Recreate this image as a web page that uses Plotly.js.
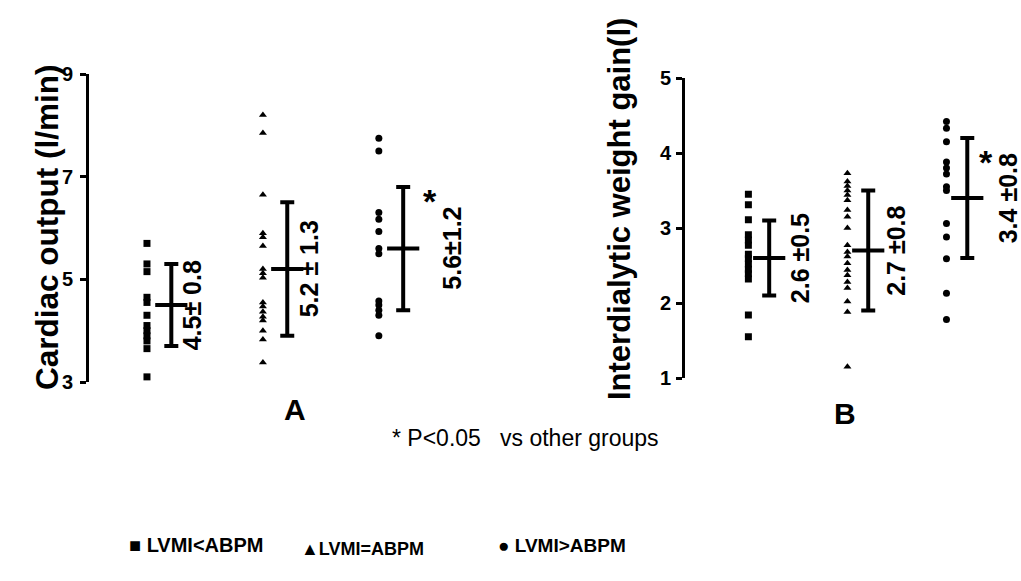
<!DOCTYPE html>
<html>
<head>
<meta charset="utf-8">
<script src="https://cdn.plot.ly/plotly-3.0.1.min.js"></script>
<style>
  html, body { margin: 0; padding: 0; background: #fff; }
  #chart { width: 1021px; height: 581px; }
</style>
</head>
<body>
<div id="chart"></div>
<script>
// Group names (legend order)
const groupNames = ['LVMI&lt;ABPM', 'LVMI=ABPM', 'LVMI&gt;ABPM'];
const groupSymbols = ['square', 'triangle-up', 'circle'];
const legendGlyphs = ['\u25A0', '\u25B2', '\u25CF'];

// Panel A: cardiac output (l/min), individual patients per group
const coLow   = [5.7, 5.3, 5.15, 4.65, 4.55, 4.3, 4.1, 4.0, 3.9, 3.8, 3.65, 3.1];
const coEqual = [8.2, 7.85, 6.65, 5.9, 5.82, 5.65, 5.2, 5.12, 5.03, 4.55, 4.47, 4.37, 4.27, 4.2, 4.0, 3.83, 3.38];
const coHigh  = [7.75, 7.5, 6.3, 6.17, 5.93, 5.6, 5.5, 4.58, 4.5, 4.4, 4.3, 3.9];
const coMean  = [4.5, 5.2, 5.6];
const coSD    = [0.8, 1.3, 1.2];
const coSep   = ['\u00B1 ', ' \u00B1 ', '\u00B1'];
const coTicks = [3, 5, 7, 9];

// Panel B: interdialytic weight gain (l)
const iwgLow   = [3.45, 3.31, 3.11, 2.91, 2.84, 2.77, 2.65, 2.59, 2.52, 2.45, 2.39, 2.32, 1.84, 1.55];
const iwgEqual = [3.73, 3.62, 3.56, 3.5, 3.44, 3.37, 3.24, 3.15, 3.0, 2.77, 2.68, 2.62, 2.53, 2.44, 2.37, 2.28, 2.2, 2.02, 1.88, 1.15];
const iwgHigh  = [4.42, 4.33, 4.15, 3.88, 3.8, 3.72, 3.55, 3.5, 3.06, 2.88, 2.59, 2.13, 1.78];
const iwgMean  = [2.6, 2.7, 3.4];
const iwgSD    = [0.5, 0.8, 0.8];
const iwgSep   = [' \u00B1', ' \u00B1', ' \u00B1'];
const iwgTicks = [1, 2, 3, 4, 5];

// Significant group (index) marked with an asterisk
const sigGroup = 2;

const W = 1021, H = 581;
const px = x => x / W;
const py = y => 1 - y / H;

const FONT = 'Liberation Sans, Arial, sans-serif';
const INK = '#000000';
const barOffset = 0.21;

function panelTraces(series, means, sds, xa, ya, markerSize) {
  const traces = [];
  series.forEach((vals, g) => {
    traces.push({
      type: 'scatter', mode: 'markers', xaxis: xa, yaxis: ya,
      x: vals.map(() => g + 1), y: vals,
      showlegend: false, hoverinfo: 'y',
      marker: { symbol: groupSymbols[g], size: markerSize[g], color: INK }
    });
  });
  traces.push({
    type: 'scatter', mode: 'markers', xaxis: xa, yaxis: ya,
    x: means.map((_, g) => g + 1 + barOffset), y: means,
    showlegend: false, hoverinfo: 'y',
    marker: { symbol: 'line-ew', size: 23, line: { width: 4, color: INK }, color: INK },
    error_y: { type: 'data', array: sds, visible: true, thickness: 4, width: 7, color: INK }
  });
  return traces;
}

const data = [
  ...panelTraces([coLow, coEqual, coHigh], coMean, coSD, 'x', 'y', [7, 7, 7]),
  ...panelTraces([iwgLow, iwgEqual, iwgHigh], iwgMean, iwgSD, 'x2', 'y2', [7, 7, 7])
];

function statLabels(means, sds, seps, xref, yref, shifts, starShift) {
  const out = means.map((m, g) => ({
    xref, yref, x: g + 1 + barOffset, y: m,
    text: '<b>' + m.toFixed(1) + seps[g] + sds[g].toFixed(1) + '</b>',
    textangle: -90, showarrow: false, xshift: shifts[g],
    font: { family: FONT, size: 25, color: INK }
  }));
  out.push({
    xref, yref, x: sigGroup + 1 + barOffset, y: means[sigGroup] + sds[sigGroup],
    text: '<b>*</b>', showarrow: false, xshift: starShift[0], yshift: starShift[1],
    font: { family: FONT, size: 34, color: INK }
  });
  return out;
}

const annotations = [
  ...statLabels(coMean, coSD, coSep, 'x', 'y', [21, 22, 48], [27, -14]),
  ...statLabels(iwgMean, iwgSD, iwgSep, 'x2', 'y2', [31, 28, 41], [19, -24]),
  { xref: 'paper', yref: 'paper', x: px(27), y: py(227), text: '<b>Cardiac output (l/min)</b>',
    textangle: -90, showarrow: false, font: { family: FONT, size: 31.5, color: INK } },
  { xref: 'paper', yref: 'paper', x: px(620), y: py(209), text: '<b>Interdialytic weight gain(l)</b>',
    textangle: -90, showarrow: false, font: { family: FONT, size: 31, color: INK } },
  { xref: 'paper', yref: 'paper', x: px(282), y: py(428), text: '<b>A</b>', showarrow: false,
    font: { family: FONT, size: 30, color: INK } },
  { xref: 'paper', yref: 'paper', x: px(858), y: py(432), text: '<b>B</b>', showarrow: false,
    font: { family: FONT, size: 30, color: INK } },
  { xref: 'paper', yref: 'paper', x: px(525), y: py(453),
    text: '* P&lt;0.05\u00A0\u00A0\u00A0vs other groups', showarrow: false,
    font: { family: FONT, size: 23, color: INK } }
];

// Legend row built from the group names, each entry left-aligned
const legendX = [127, 299, 496];
const legendY = [545, 549, 545];
const legendSize = [20, 18, 19];
groupNames.forEach((n, g) => {
  annotations.push({
    xref: 'paper', yref: 'paper', x: px(legendX[g]), y: py(legendY[g]),
    xanchor: 'left', yanchor: 'middle',
    text: '<b>' + legendGlyphs[g] + (g === 1 ? '' : ' ') + n + '</b>', showarrow: false,
    font: { family: FONT, size: legendSize[g], color: INK }
  });
});

function yAxis(ticks, domain, range, anchor, standoff) {
  return {
    showgrid: false, zeroline: false, showline: true, linewidth: 3, linecolor: INK,
    ticks: 'outside', ticklen: 6, tickwidth: 3, tickcolor: INK,
    tickmode: 'array', tickvals: ticks, ticktext: ticks.map(t => '<b>' + t + '</b>'),
    tickfont: { family: FONT, size: 20, color: INK },
    ticklabelstandoff: standoff,
    domain, range, anchor, fixedrange: true, automargin: false
  };
}
const xCommon = {
  showgrid: false, zeroline: false, showline: false, showticklabels: false, ticks: '', fixedrange: true
};

const layout = {
  width: W, height: H,
  margin: { l: 0, r: 0, t: 0, b: 0 },
  paper_bgcolor: '#ffffff', plot_bgcolor: '#ffffff',
  font: { family: FONT, size: 17, color: INK },
  showlegend: false,
  xaxis:  { ...xCommon, domain: [px(89), px(460)], range: [0.5, 3.7] },
  yaxis:  yAxis(coTicks, [py(382), py(74)], [3, 9], 'x', 3),
  xaxis2: { ...xCommon, domain: [px(685), px(996)], range: [0.36, 3.5] },
  yaxis2: yAxis(iwgTicks, [py(378), py(78)], [1, 5], 'x2', 1),
  annotations
};

Plotly.newPlot('chart', data, layout, { staticPlot: true, displayModeBar: false });
</script>
</body>
</html>
